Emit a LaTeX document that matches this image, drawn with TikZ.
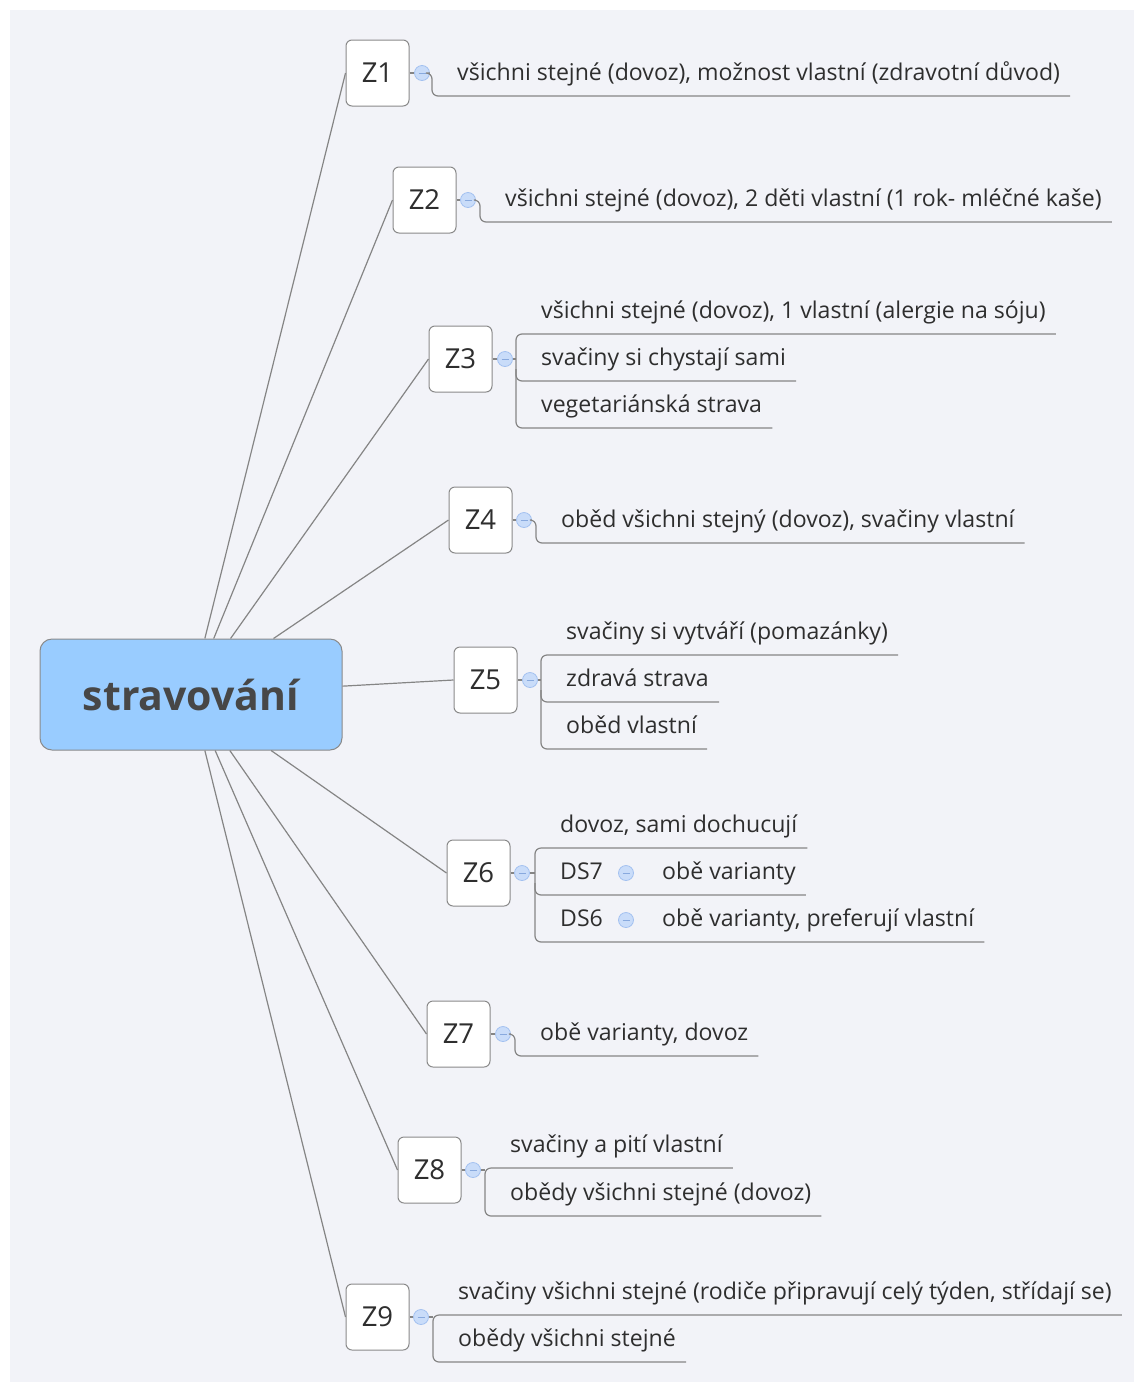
\documentclass[tikz,border=0pt]{standalone}
\usepackage{fontspec}
\setmainfont{Open Sans}
\usetikzlibrary{calc}
\definecolor{bg}{HTML}{F2F3F8}
\definecolor{rootfill}{HTML}{99CCFF}
\definecolor{linec}{HTML}{858585}
\definecolor{boxc}{HTML}{8A8A8A}
\definecolor{txt}{HTML}{2E2E2E}
\definecolor{roottxt}{HTML}{474747}
\definecolor{circfill}{HTML}{C9DCF9}
\definecolor{circdraw}{HTML}{A3C1F0}
\definecolor{minusc}{HTML}{88A9DE}
\newcommand\mkkid[4]{%
  \node[kid] (#1) at (#2+25,#3-16) {#4};
  \coordinate (#1s) at (#2,#3);
  \coordinate (#1e) at ($(#1.base east)+(10,16)$);}
\begin{document}
\begin{tikzpicture}[x=1pt,y=-1pt,
  conn/.style={draw=linec,line width=1.2pt},
  brk/.style={conn,rounded corners=6pt},
  root/.style={draw=boxc,line width=1pt,fill=rootfill,rounded corners=12pt,minimum width=302pt,minimum height=111pt,inner sep=0pt,font=\fontsize{41}{48}\selectfont\bfseries,text=roottxt},
  zbox/.style={draw=boxc,line width=1pt,fill=white,rounded corners=6pt,minimum width=63pt,minimum height=66pt,inner sep=0pt,font=\fontsize{27.5}{32}\selectfont,text=txt},
  fold/.style={circle,draw=circdraw,fill=circfill,line width=0.8pt,minimum size=15pt,inner sep=0pt,
    path picture={\draw[minusc,line width=1pt]([xshift=4pt]path picture bounding box.west)--([xshift=-4pt]path picture bounding box.east);}},
  kid/.style={inner sep=0pt,anchor=base west,font=\fontsize{23.1}{28}\selectfont,text=txt}]
\useasboundingbox (0,0) rectangle (1134,1382);
\fill[white] (0,0) rectangle (1134,1382);
\fill[bg] (10,10) rectangle (1134,1382);

% root and main topics
\node[root] (r) at (191,694.5) {stravování};
\node[zbox] (z1) at (377.5,73) {Z1};
\node[zbox] (z2) at (424.5,200) {Z2};
\node[zbox] (z3) at (460.5,359) {Z3};
\node[zbox] (z4) at (480.5,520) {Z4};
\node[zbox] (z5) at (485.5,680) {Z5};
\node[zbox] (z6) at (478.5,873) {Z6};
\node[zbox] (z7) at (458.5,1034) {Z7};
\node[zbox] (z8) at (429.5,1170) {Z8};
\node[zbox] (z9) at (377.5,1317) {Z9};
\foreach \i in {1,...,9} {\draw[conn] (r) -- (z\i.west);}

% fold circles
\node[fold] (f1) at (422,73) {};
\node[fold] (f2) at (468,200) {};
\node[fold] (f3) at (505,359) {};
\node[fold] (f4) at (524,520) {};
\node[fold] (f5) at (530,680) {};
\node[fold] (f6) at (522,873) {};
\node[fold] (f7) at (503,1034) {};
\node[fold] (f8) at (473,1170) {};
\node[fold] (f9) at (421,1317) {};
\foreach \i in {1,...,9} {\draw[conn] (z\i.east) -- (f\i.west);}

% Z1
\mkkid{k11}{432}{96}{všichni stejné (dovoz), možnost vlastní (zdravotní důvod)}
\draw[brk] (f1.east) -- (f1.east -| k11s) -- (k11s) -- (k11e);
% Z2
\mkkid{k21}{480}{222}{všichni stejné (dovoz), 2 děti vlastní (1 rok- mléčné kaše)}
\draw[brk] (f2.east) -- (f2.east -| k21s) -- (k21s) -- (k21e);
% Z3
\mkkid{k31}{516}{334}{všichni stejné (dovoz), 1 vlastní (alergie na sóju)}
\mkkid{k32}{516}{381}{svačiny si chystají sami}
\mkkid{k33}{516}{428}{vegetariánská strava}
\draw[brk] (k31e) -- (k31s) -- (k33s) -- (k33e);
\draw[brk] ([yshift=12pt]k32s) -- (k32s) -- (k32e);
\draw[conn] (f3.east) -- (f3.east -| k31s);
% Z4
\mkkid{k41}{536}{543}{oběd všichni stejný (dovoz), svačiny vlastní}
\draw[brk] (f4.east) -- (f4.east -| k41s) -- (k41s) -- (k41e);
% Z5
\mkkid{k51}{541}{655}{svačiny si vytváří (pomazánky)}
\mkkid{k52}{541}{702}{zdravá strava}
\mkkid{k53}{541}{749}{oběd vlastní}
\draw[brk] (k51e) -- (k51s) -- (k53s) -- (k53e);
\draw[brk] ([yshift=12pt]k52s) -- (k52s) -- (k52e);
\draw[conn] (f5.east) -- (f5.east -| k51s);
% Z6
\mkkid{k61}{535}{848}{dovoz, sami dochucují}
\node[kid] (k62) at (560,879) {DS7};
\node[fold] (g62) at (626,873) {};
\node[kid] (k62b) at (662,879) {obě varianty};
\coordinate (k62s) at (535,895);
\coordinate (k62e) at ($(k62b.base east)+(10,16)$);
\node[kid] (k63) at (560,926) {DS6};
\node[fold] (g63) at (626,920) {};
\node[kid] (k63b) at (662,926) {obě varianty, preferují vlastní};
\coordinate (k63s) at (535,942);
\coordinate (k63e) at ($(k63b.base east)+(10,16)$);
\draw[brk] (k61e) -- (k61s) -- (k63s) -- (k63e);
\draw[brk] ([yshift=12pt]k62s) -- (k62s) -- (k62e);
\draw[conn] (f6.east) -- (f6.east -| k61s);
% Z7
\mkkid{k71}{515}{1056}{obě varianty, dovoz}
\draw[brk] (f7.east) -- (f7.east -| k71s) -- (k71s) -- (k71e);
% Z8
\mkkid{k81}{485}{1168}{svačiny a pití vlastní}
\mkkid{k82}{485}{1216}{obědy všichni stejné (dovoz)}
\draw[brk] (k81e) -- (k81s) -- (k82s) -- (k82e);
\draw[conn] (f8.east) -- (f8.east -| k81s);
% Z9
\mkkid{k91}{433}{1315}{svačiny všichni stejné (rodiče připravují celý týden, střídají se)}
\mkkid{k92}{433}{1362}{obědy všichni stejné}
\draw[brk] (k91e) -- (k91s) -- (k92s) -- (k92e);
\draw[conn] (f9.east) -- (f9.east -| k91s);
\end{tikzpicture}
\end{document}
